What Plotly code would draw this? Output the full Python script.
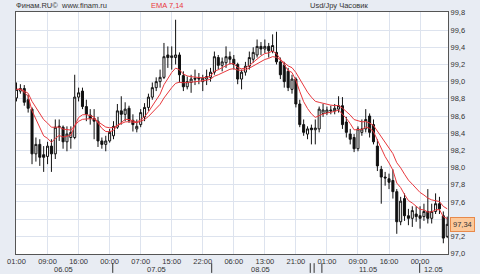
import plotly.graph_objects as go

# Hourly USD/JPY candles
opens = [98.81, 98.89, 98.92, 98.79, 98.68, 98.16, 98.27, 98.15, 98.13, 98.25,
         98.16, 98.47, 98.47, 98.30, 98.35, 98.35, 98.82, 98.89, 98.71, 98.61,
         98.57, 98.54, 98.31, 98.27, 98.31, 98.37, 98.47, 98.66, 98.62, 98.69,
         98.55, 98.45, 98.50, 98.59, 98.70, 98.82, 98.93, 99.00, 99.05, 99.31,
         99.28, 99.28, 99.31, 99.07, 98.94, 98.99, 99.04, 99.03, 99.00, 99.03,
         99.05, 99.11, 99.28, 99.19, 99.22, 99.29, 99.26, 99.20, 99.03, 99.11,
         99.18, 99.26, 99.31, 99.41, 99.38, 99.41, 99.35, 99.34, 99.23, 99.19,
         99.12, 98.91, 99.03, 98.74, 98.50, 98.39, 98.46, 98.44, 98.45, 98.63,
         98.64, 98.67, 98.66, 98.68, 98.72, 98.53, 98.39, 98.35, 98.22, 98.41,
         98.45, 98.60, 98.50, 98.25, 97.98, 97.89, 97.87, 97.85, 97.72, 97.37,
         97.64, 97.44, 97.41, 97.46, 97.44, 97.43, 97.49, 97.41, 97.49, 97.58,
         97.44, 97.20]
closes = [98.91, 98.92, 98.76, 98.69, 98.16, 98.27, 98.12, 98.12, 98.25, 98.16,
          98.47, 98.48, 98.30, 98.39, 98.41, 98.82, 98.87, 98.71, 98.62, 98.57,
          98.54, 98.31, 98.27, 98.31, 98.41, 98.48, 98.66, 98.62, 98.68, 98.55,
          98.50, 98.48, 98.64, 98.70, 98.82, 98.93, 99.00, 99.05, 99.29, 99.28,
          99.30, 99.31, 99.08, 98.94, 99.00, 99.03, 99.03, 99.04, 99.04, 99.06,
          99.11, 99.29, 99.19, 99.23, 99.29, 99.26, 99.20, 99.03, 99.11, 99.18,
          99.28, 99.34, 99.41, 99.38, 99.41, 99.36, 99.42, 99.23, 99.08, 99.00,
          98.93, 99.03, 98.74, 98.50, 98.41, 98.45, 98.44, 98.46, 98.68, 98.67,
          98.67, 98.66, 98.69, 98.72, 98.50, 98.41, 98.33, 98.22, 98.45, 98.45,
          98.56, 98.41, 98.30, 98.02, 97.89, 97.88, 97.83, 97.72, 97.37, 97.61,
          97.44, 97.41, 97.50, 97.43, 97.41, 97.49, 97.41, 97.49, 97.58, 97.52,
          97.18, 97.34]
highs = [98.99, 98.97, 98.96, 98.85, 98.70, 98.35, 98.33, 98.25, 98.30, 98.33,
         98.56, 98.56, 98.49, 98.48, 98.48, 99.08, 98.93, 98.93, 98.79, 98.68,
         98.68, 98.59, 98.35, 98.37, 98.45, 98.54, 98.74, 98.83, 98.76, 98.72,
         98.62, 98.56, 98.68, 98.75, 98.86, 98.99, 99.05, 99.14, 99.45, 99.41,
         99.41, 99.72, 99.34, 99.12, 99.06, 99.08, 99.14, 99.10, 99.08, 99.14,
         99.16, 99.35, 99.31, 99.28, 99.41, 99.35, 99.31, 99.22, 99.14, 99.23,
         99.35, 99.40, 99.49, 99.46, 99.49, 99.45, 99.55, 99.58, 99.28, 99.23,
         99.16, 99.08, 99.05, 98.79, 98.56, 98.48, 98.50, 98.56, 98.71, 98.74,
         98.71, 98.72, 98.74, 98.83, 98.82, 98.59, 98.45, 98.39, 98.48, 98.56,
         98.68, 98.63, 98.56, 98.33, 98.02, 97.95, 97.93, 97.98, 97.75, 97.66,
         97.70, 97.52, 97.55, 97.55, 97.55, 97.58, 97.75, 97.58, 97.70, 97.66,
         97.49, 97.43]
lows = [98.77, 98.86, 98.72, 98.64, 98.04, 98.07, 98.02, 97.95, 98.04, 97.95,
        98.10, 98.31, 98.22, 98.19, 98.22, 98.33, 98.77, 98.68, 98.54, 98.50,
        98.33, 98.24, 98.22, 98.19, 98.29, 98.33, 98.45, 98.50, 98.54, 98.52,
        98.42, 98.41, 98.47, 98.54, 98.66, 98.79, 98.89, 98.93, 99.03, 99.16,
        99.14, 99.20, 98.99, 98.89, 98.91, 98.87, 98.96, 98.97, 98.89, 98.96,
        99.00, 99.08, 99.14, 99.12, 99.16, 99.20, 99.14, 98.97, 98.91, 99.07,
        99.14, 99.22, 99.28, 99.31, 99.33, 99.28, 99.33, 99.20, 99.03, 98.93,
        98.89, 98.86, 98.70, 98.47, 98.37, 98.33, 98.27, 98.27, 98.41, 98.59,
        98.61, 98.62, 98.62, 98.64, 98.45, 98.35, 98.27, 98.18, 98.19, 98.37,
        98.41, 98.35, 98.27, 97.96, 97.58, 97.79, 97.75, 97.64, 97.23, 97.33,
        97.38, 97.33, 97.31, 97.37, 97.29, 97.38, 97.35, 97.35, 97.46, 97.46,
        97.12, 97.18]

hour_ticks = [0, 8, 16, 24, 32, 40, 48, 56, 64, 72, 80, 88, 96, 104]
hour_labels = ["01:00", "09:00", "16:00", "00:00", "07:00", "15:00", "22:00",
               "06:00", "13:00", "21:00", "01:00", "09:00", "16:00", "00:00"]
date_pos = [12, 36, 63, 90.5]
date_labels = ["06.05", "07.05", "08.05", "11.05"]
last_date_pos = 104.5
last_date_label = "12.05"
day_separators = [24.8, 50.3, 75.7, 76.7, 78.7, 103.9]
price_ticks = [97.0, 97.2, 97.4, 97.6, 97.8, 98.0, 98.2, 98.4, 98.6, 98.8,
               99.0, 99.2, 99.4, 99.6, 99.8]
ema_periods = [7, 14]


def ema(values, n):
    k = 2.0 / (n + 1)
    out = [values[0]]
    for v in values[1:]:
        out.append(out[-1] + k * (v - out[-1]))
    return out


idx = list(range(len(closes)))
FONT = "Liberation Sans"
TXT = "#333333"

fig = go.Figure()
fig.add_trace(go.Candlestick(
    x=idx, open=opens, high=highs, low=lows, close=closes,
    increasing=dict(line=dict(color="#111111", width=1), fillcolor="white"),
    decreasing=dict(line=dict(color="#111111", width=1), fillcolor="#111111"),
    whiskerwidth=0, showlegend=False, hoverinfo="skip"))

for n in ema_periods:
    fig.add_trace(go.Scatter(x=idx, y=ema(closes, n), mode="lines",
                             line=dict(color="#e8383d", width=1),
                             showlegend=False, hoverinfo="skip"))

ann = [
    dict(xref="paper", yref="paper", x=-0.004, y=1.026, xanchor="left", yanchor="middle",
         text="Финам.RU©  www.finam.ru", showarrow=False,
         font=dict(family=FONT, size=7.5, color=TXT)),
    dict(xref="paper", yref="paper", x=0.308, y=1.026, xanchor="left", yanchor="middle",
         text="EMA 7,14", showarrow=False,
         font=dict(family=FONT, size=7.5, color="#e8383d")),
    dict(xref="paper", yref="paper", x=0.748, y=1.026, xanchor="center", yanchor="middle",
         text="Usd/Jpy Часовик", showarrow=False,
         font=dict(family=FONT, size=7.5, color=TXT)),
    dict(xref="paper", yref="y", x=1.005, y=closes[-1], xanchor="left", yanchor="middle",
         text=f"{closes[-1]:.2f}".replace(".", ","), showarrow=False,
         bgcolor="#fcc99b", bordercolor="#e8894a", borderwidth=1, borderpad=2,
         font=dict(family=FONT, size=7.5, color=TXT)),
]
for p, t in zip(date_pos, date_labels):
    ann.append(dict(xref="x", yref="paper", x=p, y=-0.062, xanchor="center",
                    yanchor="middle", text=t, showarrow=False,
                    font=dict(family=FONT, size=7.5, color=TXT)))
ann.append(dict(xref="x", yref="paper", x=last_date_pos, y=-0.062, xanchor="left",
                yanchor="middle", text=last_date_label, showarrow=False,
                font=dict(family=FONT, size=7.5, color=TXT)))

shapes = [dict(type="line", xref="x", yref="paper", x0=s, x1=s, y0=-0.038, y1=-0.078,
               line=dict(color="#333333", width=1)) for s in day_separators]

fig.update_layout(
    width=480, height=274,
    margin=dict(l=7, r=32, t=12, b=20, pad=0),
    paper_bgcolor="#e8ecf3", plot_bgcolor="white",
    annotations=ann, shapes=shapes,
    xaxis=dict(range=[-0.13, 111.2], tickvals=hour_ticks, ticktext=hour_labels,
               showgrid=True, gridcolor="#dde3ee", gridwidth=1, zeroline=False,
               showline=True, linecolor="#555555", linewidth=1, mirror=True,
               ticks="", ticklen=0, ticklabeloverflow="allow",
               tickfont=dict(family=FONT, size=7.5, color=TXT),
               rangeslider=dict(visible=False), fixedrange=True),
    yaxis=dict(range=[96.995, 99.81], side="right", tickvals=price_ticks,
               ticktext=[f"{v:.1f}".replace(".", ",") for v in price_ticks],
               showgrid=True, gridcolor="#dde3ee", gridwidth=1, zeroline=False,
               showline=True, linecolor="#555555", linewidth=1, mirror=True,
               ticks="", ticklen=0, ticklabeloverflow="allow",
               tickfont=dict(family=FONT, size=7.5, color=TXT),
               fixedrange=True),
    boxgap=0.25,
)

fig.write_html("out.html")
